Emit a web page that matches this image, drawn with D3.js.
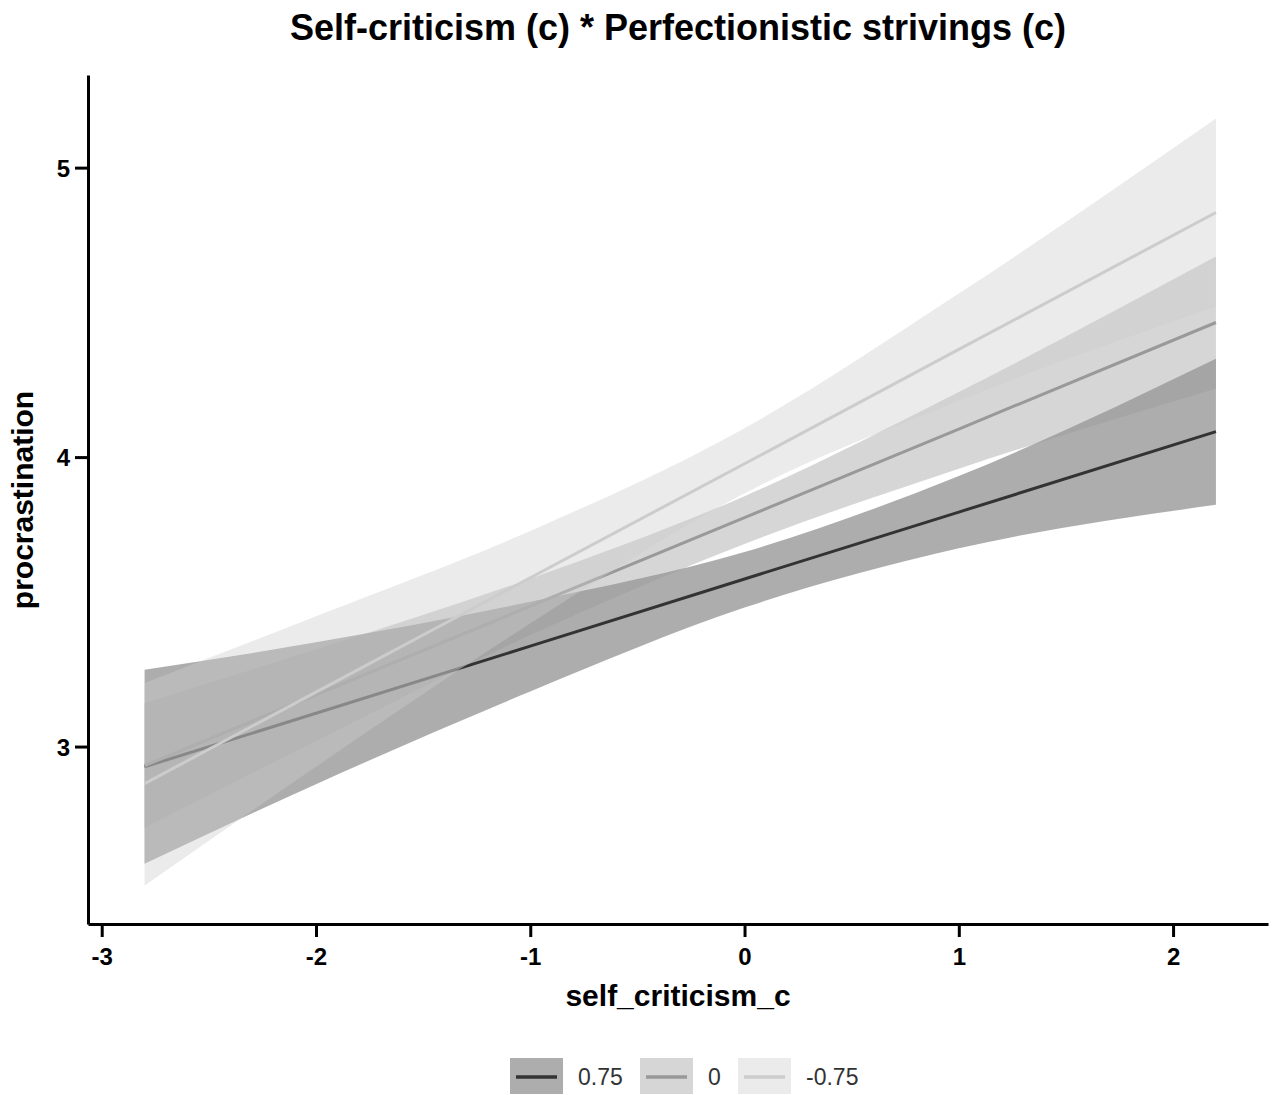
<!DOCTYPE html>
<html>
<head>
<meta charset="utf-8">
<script src="https://cdn.jsdelivr.net/npm/d3@7"></script>
<style>
  body { margin: 0; background: #fff; }
  text { font-family: "Liberation Sans", Arial, Helvetica, sans-serif; }
</style>
</head>
<body>
<div id="chart"></div>
<script>
// values
var xGrid = [-2.8, -2, -1, 0, 1, 2.2];
var groups = ['0.75', '0', '-0.75'];

var fitHigh = [2.930, 3.115, 3.347, 3.579, 3.810, 4.088];
var lowHigh = [2.595, 2.870, 3.190, 3.480, 3.685, 3.835];
var upHigh  = [3.265, 3.360, 3.500, 3.672, 3.935, 4.340];

var fitMid = [2.934, 3.179, 3.485, 3.791, 4.097, 4.465];
var lowMid = [2.720, 3.020, 3.385, 3.700, 3.960, 4.237];
var upMid  = [3.150, 3.335, 3.580, 3.865, 4.225, 4.693];

var fitLow = [2.872, 3.188, 3.583, 3.977, 4.372, 4.845];
var lowLow = [2.520, 2.930, 3.425, 3.875, 4.195, 4.520];
var upLow  = [3.220, 3.450, 3.745, 4.100, 4.565, 5.170];

var xTicks = [-3, -2, -1, 0, 1, 2];
var yTicks = [3, 4, 5];

var series = [
    { key: groups[0], fit: fitHigh, lo: lowHigh, hi: upHigh, color: '#333333' },
    { key: groups[1], fit: fitMid,  lo: lowMid,  hi: upMid,  color: '#999999' },
    { key: groups[2], fit: fitLow,  lo: lowLow,  hi: upLow,  color: '#cccccc' }
];

var width = 1280, height = 1095;
var svg = d3.select('#chart').append('svg')
    .attr('width', width)
    .attr('height', height);

var x = d3.scaleLinear().domain([-3.064, 2.443]).range([88, 1268]);
var y = d3.scaleLinear().domain([2.387, 5.32]).range([924, 75]);

var plot = svg.append('g');

series.forEach(function(s) {
    var pts = xGrid.map(function(v, i) {
        return { x: v, fit: s.fit[i], lo: s.lo[i], hi: s.hi[i] };
    });

    var band = d3.area()
        .curve(d3.curveMonotoneX)
        .x(function(d) { return x(d.x); })
        .y0(function(d) { return y(d.lo); })
        .y1(function(d) { return y(d.hi); });

    var line = d3.line()
        .x(function(d) { return x(d.x); })
        .y(function(d) { return y(d.fit); });

    plot.append('path')
        .datum(pts)
        .attr('d', band)
        .attr('fill', s.color)
        .attr('fill-opacity', 0.4);

    plot.append('path')
        .datum(pts)
        .attr('d', line)
        .attr('fill', 'none')
        .attr('stroke', s.color)
        .attr('stroke-width', 3);
});

// hyphen instead of unicode minus, like the original
var fmt = function(d) { return d < 0 ? '-' + Math.abs(d) : String(d); };

// axes
var xAxis = svg.append('g')
    .attr('transform', 'translate(0,924)')
    .call(d3.axisBottom(x).tickValues(xTicks).tickSize(13).tickSizeOuter(0).tickPadding(11)
        .tickFormat(fmt));

var yAxis = svg.append('g')
    .attr('transform', 'translate(88,0)')
    .call(d3.axisLeft(y).tickValues(yTicks).tickSize(13).tickSizeOuter(0).tickPadding(5)
        .tickFormat(fmt));

[xAxis, yAxis].forEach(function(a) {
    a.select('.domain').attr('stroke', '#000').attr('stroke-width', 3);
    a.selectAll('.tick line').attr('stroke', '#000').attr('stroke-width', 3);
    a.selectAll('.tick text')
        .attr('fill', '#000')
        .style('font-size', '24px')
        .style('font-weight', 'bold')
        .style('font-family', '"Liberation Sans", Arial, sans-serif');
});
yAxis.selectAll('.tick text').attr('dy', '0.36em');

// titles
svg.append('text')
    .attr('x', 678).attr('y', 40)
    .attr('text-anchor', 'middle')
    .style('font-size', '36px').style('font-weight', 'bold')
    .text('Self-criticism (c) * Perfectionistic strivings (c)');

svg.append('text')
    .attr('x', 678).attr('y', 1006)
    .attr('text-anchor', 'middle')
    .style('font-size', '30px').style('font-weight', 'bold')
    .text('self_criticism_c');

svg.append('text')
    .attr('transform', 'translate(33,500) rotate(-90)')
    .attr('text-anchor', 'middle')
    .style('font-size', '30px').style('font-weight', 'bold')
    .text('procrastination');

// legend
var legendX = [510, 640, 738];
var legend = svg.append('g');
series.forEach(function(s, i) {
    var g = legend.append('g').attr('transform', 'translate(' + legendX[i] + ',1058)');
    g.append('rect')
        .attr('width', 53).attr('height', 36)
        .attr('fill', s.color).attr('fill-opacity', 0.4);
    g.append('line')
        .attr('x1', 6).attr('x2', 47)
        .attr('y1', 19).attr('y2', 19)
        .attr('stroke', s.color).attr('stroke-width', 3.5);
    g.append('text')
        .attr('x', 68).attr('y', 27)
        .style('font-size', '23px')
        .attr('fill', '#333')
        .text(s.key);
});
</script>
</body>
</html>
